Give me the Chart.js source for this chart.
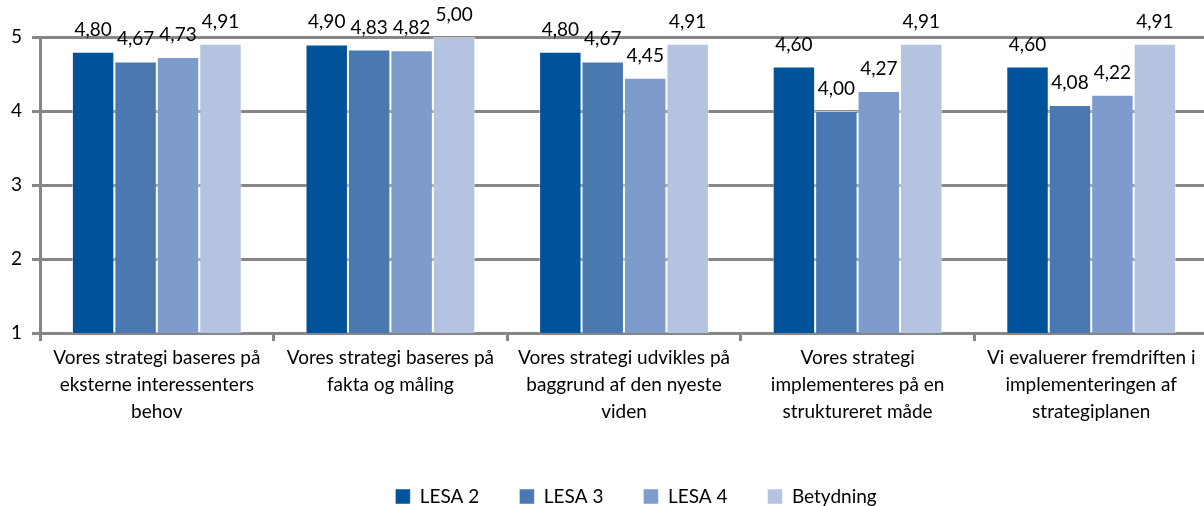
<!DOCTYPE html>
<html>
<head>
<meta charset="utf-8">
<script src="https://cdn.jsdelivr.net/npm/chart.js@4"></script>
<style>
  html, body { margin: 0; padding: 0; background: #fff; overflow: hidden; }
  #wrap { width: 1212px; height: 506px; position: relative; }
</style>
</head>
<body>
<div id="wrap"><canvas id="myChart"></canvas></div>
<script>
// data
const categories = [
  ["Vores strategi baseres på", "eksterne interessenters", "behov"],
  ["Vores strategi baseres på", "fakta og måling"],
  ["Vores strategi udvikles på", "baggrund af den nyeste", "viden"],
  ["Vores strategi", "implementeres på en", "struktureret måde"],
  ["Vi evaluerer fremdriften i", "implementeringen af", "strategiplanen"]
];
const lesa2 = [4.80, 4.90, 4.80, 4.60, 4.60];
const lesa3 = [4.67, 4.83, 4.67, 4.00, 4.08];
const lesa4 = [4.73, 4.82, 4.45, 4.27, 4.22];
const betydning = [4.91, 5.00, 4.91, 4.91, 4.91];
const yTicks = [1, 2, 3, 4, 5];

const fmt = v => v.toFixed(2).replace(".", ",");

// value labels above bars, like Excel
const barLabels = {
  id: "barLabels",
  afterDatasetsDraw(chart) {
    const ctx = chart.ctx;
    ctx.save();
    ctx.font = "19px Lato";
    ctx.fillStyle = "#000";
    ctx.textAlign = "center";
    ctx.textBaseline = "alphabetic";
    chart.data.datasets.forEach((ds, i) => {
      chart.getDatasetMeta(i).data.forEach((bar, j) => {
        ctx.fillText(fmt(ds.data[j]), bar.x, bar.y - 16);
      });
    });
    ctx.restore();
  }
};

// legend sits a bit right of centre in the original
const legendShift = {
  id: "legendShift",
  afterLayout(chart) {
    chart.legend.left += 32;
    chart.legend.right += 32;
  }
};

const makeSet = (label, data, color) => ({
  label: label,
  data: data,
  backgroundColor: color,
  borderColor: "rgba(255,255,255,0.5)",
  borderWidth: 1,
  barPercentage: 1,
  categoryPercentage: 0.727
});

const ctx = document.getElementById("myChart").getContext("2d");
const chart = new Chart(ctx, {
  type: "bar",
  data: {
    labels: categories,
    datasets: [
      makeSet("LESA 2", lesa2, "#00529B"),
      makeSet("LESA 3", lesa3, "#4A78B0"),
      makeSet("LESA 4", lesa4, "#7D9CCB"),
      makeSet("Betydning", betydning, "#B4C3DF")
    ]
  },
  options: {
    responsive: true,
    maintainAspectRatio: false,
    animation: false,
    layout: { padding: { top: 37, right: 4, left: 0, bottom: -10 } },
    plugins: {
      tooltip: { enabled: false },
      legend: {
        position: "bottom",
        labels: {
          font: { family: "Lato", size: 19 },
          color: "#000",
          boxWidth: 15,
          boxHeight: 15,
          padding: 40
        }
      }
    },
    scales: {
      y: {
        min: 1,
        max: 5,
        afterBuildTicks: s => { s.ticks = yTicks.map(v => ({ value: v })); },
        afterFit: s => { s.width = 40; },
        ticks: { font: { family: "Lato", size: 19 }, color: "#000", padding: 10 },
        grid: { color: "#868686", lineWidth: 3, tickLength: 8, drawTicks: true },
        border: { color: "#868686", width: 3 }
      },
      x: {
        afterFit: s => { s.height = 114; },
        ticks: { font: { family: "Lato", size: 19, lineHeight: 1.4 }, color: "#000", maxRotation: 0, autoSkip: false, padding: 4 },
        grid: { offset: true, drawOnChartArea: false, color: "#868686", lineWidth: 3, tickLength: 8 },
        border: { color: "#868686", width: 3 }
      }
    }
  },
  plugins: [barLabels, legendShift]
});
</script>
</body>
</html>
